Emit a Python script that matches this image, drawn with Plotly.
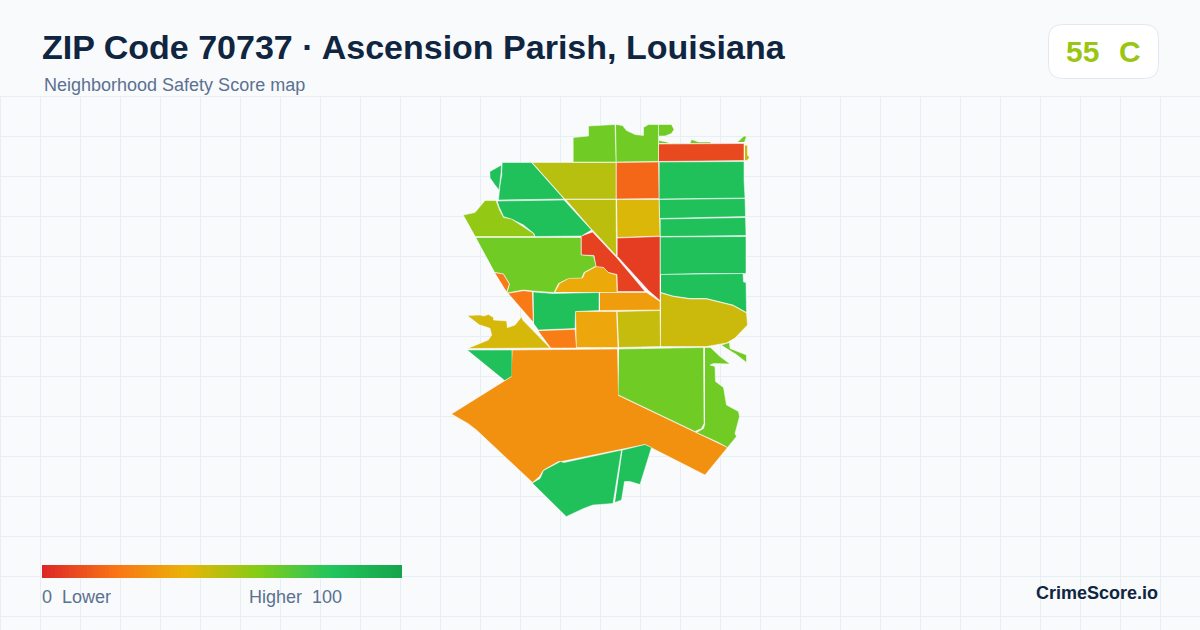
import plotly.graph_objects as go
from plotly.colors import sample_colorscale

# score ramp used for the tracts and the legend bar
score_colors = [
    [0.0, "#dc2626"],
    [0.2, "#f97316"],
    [0.4, "#eab308"],
    [0.6, "#84cc16"],
    [0.8, "#22c55e"],
    [1.0, "#16a34a"],
]
legend_scores = list(range(0, 101))

# tract outlines in page pixels
north_a = [(573.5,137.5),(588.5,136),(588.5,126),(615,124.5),(616,162),(573.5,162)]
north_b = [(616,124.5),(622.5,125.5),(626.5,130.5),(635,134.5),(643.5,135.5),(643.5,127.5),(648.5,124.5),(658.5,124.5),(658.5,161.5),(616.5,162)]
north_lobe = [(659,124.5),(671.5,124.5),(674,129.5),(671.5,133.5),(665,136),(659,136)]
north_strip = [(659,140.5),(666.5,142),(673.5,144.5),(690,143.5),(691.5,139.5),(698.5,142),(710.5,142),(711,143.5),(659,143.5)]
north_tip = [(737.5,142),(744,136),(746.5,136.5),(744.5,142)]
top_red = [(659,144),(710,143.5),(744,143.5),(744,160.5),(659,161.5)]
top_sliver = [(745,145),(747.5,145.5),(747.5,155),(749.5,157.5),(747,160.5),(745,160.5)]
orange_block = [(616.5,162.5),(658.5,162),(659,198.5),(616.5,199)]
east_1 = [(659.5,162),(744,161.5),(744,180),(745,198),(703.5,198.5),(659.5,199)]
east_2 = [(659.5,199.5),(745,198.5),(745.5,216.5),(703.5,217.5),(660,218.5)]
east_3 = [(660.5,219),(745.5,217.5),(746,235.5),(660.5,236.5)]
east_4 = [(660.5,237),(746,236.5),(746,273.5),(703.5,273.5),(660.5,274.5)]
east_5 = [(661,274.5),(743,273.5),(743.5,282),(746,282.5),(746.5,312.5),(733,305),(706.5,298.5),(690,298.5),(673,296),(661,292.5)]
olive_1 = [(532.5,162.5),(616,162.5),(616,199),(565,199)]
olive_2 = [(566,199.5),(616,199.5),(616.5,256),(592.5,230)]
amber_mid = [(617,199.5),(659,199.5),(660,236),(617.5,237.5)]
red_block = [(617.5,238),(660,236.5),(660,300.5),(648.5,290.5),(617.5,256.5)]
red_sliver = [(581.5,236),(592.5,232),(616.5,257.5),(645,291.5),(617.5,291.5),(617,274.5),(608.5,272.5),(603.5,267.5),(596,267),(594,255.5),(581.5,255)]
nw_1 = [(502.5,162.5),(531.5,162.5),(564,199),(498.5,200),(500,185),(502,173.5)]
nw_edge = [(490,171.5),(501.5,165),(501,173.5),(499,190),(495,185),(490.5,178.5)]
nw_2 = [(497.5,201),(564,200),(591.5,230),(581.5,236),(535,236.5),(534,233.5),(523.5,225),(513.5,220),(503.5,216.5),(500,208.5)]
west_lime = [(463.5,215),(475,212.5),(485,200.5),(496,200.5),(499.5,210),(503.5,217.5),(511.5,219),(523.5,226.5),(533.5,233.5),(534.5,236.5),(475.5,236.5)]
west_big = [(476,237.5),(581,237.5),(581,255),(593.5,256),(596,266),(584,272.5),(581.5,278.5),(566.5,279.5),(558.5,283.5),(554,292.5),(533,291),(523,290),(507,293),(509.5,284),(503.5,274),(495,272.5)]
west_orange = [(495,272.7),(503.3,274),(509.3,284),(506.7,291.7)]
amber_wave = [(555,292),(559.5,283.5),(568.5,278.5),(582.5,278),(585,272.5),(596,266.5),(603.5,267.5),(608.5,272.5),(616.5,275),(617,292)]
orange_wedge = [(508.3,293.3),(523.3,290.7),(532.3,291.7),(533.3,322)]
green_mid = [(533.5,292),(553,293.5),(599,292.5),(599,310.5),(575.5,311.5),(575,328.5),(538.3,330),(534,324)]
amber_bar = [(600,292.5),(646.5,292.5),(660,301.5),(660,310),(600,310.5)]
amber_sq = [(576,311.5),(616.5,311.5),(618,347.5),(576.5,347.5)]
olive_sq = [(617.5,311.5),(660,310.5),(660.5,346.5),(619,347.5)]
yellow_east = [(661,293),(673,296.5),(690,299),(706.5,299),(733,305.5),(746.5,313),(747.5,325),(735,338),(726.5,343),(706.5,346.5),(661,346.5)]
yellow_west = [(467.5,315.5),(480,315),(483.5,316),(488.5,314.5),(493.5,317.5),(493.5,320),(506.7,321),(507.3,327.7),(515,325),(521.7,316.7),(522.7,320),(550,348),(467.5,348.5),(480,343.3),(488.3,340),(491.7,335),(490,328.3),(480,325)]
orange_small = [(538.3,330.7),(575,329.3),(576.5,348),(551,348)]
green_tri = [(467.5,350),(512,350),(512,376.5),(505,380.5)]
south_big = [(512.5,350),(617.5,349),(618.5,395.5),(727.5,447.5),(705,475),(645,444.5),(561.5,461.5),(558.5,461.5),(543.5,470),(539.5,476.5),(532.5,482.5),(476.5,430),(468,423.5),(451.5,414),(511.5,376.5)]
se_lime = [(619,349),(703.5,347.5),(704,423.5),(701.5,428.5),(695,431.5),(618.5,395)]
se_edge = [(705,347.5),(710.5,347.5),(720,356.5),(730,364),(713.5,363.5),(710,365),(715,366.5),(715.5,381.5),(723.5,387.5),(726.5,405),(738.5,411.5),(739.5,416.5),(735,433.5),(736.5,436.5),(727.5,447.5),(718.5,442.5),(696.5,432.5),(703.5,428.5),(705,423.5)]
se_island = [(721.5,345),(729.5,342.5),(730,348.5),(746.5,355),(746.5,362.5),(735,353.5)]
south_1 = [(532.5,483),(540,478.5),(543.5,470.5),(560.5,461.5),(564,462.5),(621.5,450),(613,503.5),(603,504.5),(593,505),(583.5,508.5),(573.5,513.5),(566.5,516.5)]
south_2 = [(622.5,450),(645,444.5),(651.5,447.5),(640,484.5),(630,481.5),(624.5,481.5),(621.5,500),(615,502.5)]

tract_outlines = [
    north_a, north_b, north_lobe, north_strip, north_tip, top_red, top_sliver,
    orange_block, east_1, east_2, east_3, east_4, east_5, olive_1, olive_2,
    amber_mid, red_block, red_sliver, nw_1, nw_edge, nw_2, west_lime, west_big,
    west_orange, amber_wave, orange_wedge, green_mid, amber_bar, amber_sq,
    olive_sq, yellow_east, yellow_west, orange_small, green_tri, south_big,
    se_lime, se_edge, se_island, south_1, south_2,
]
tract_scores = [
    64, 64, 64, 64, 64, 9, 46,
    17, 83, 83, 83, 83, 83, 50, 49,
    43, 6, 7, 83, 83, 83, 57, 64,
    22, 37, 22, 83, 33, 36,
    47, 46, 44, 23, 83, 29,
    64, 64, 64, 83, 83,
]

fig = go.Figure()

# faint page grid below the header
for x in range(0, 1201, 40):
    fig.add_shape(type="line", x0=x + 0.5, x1=x + 0.5, y0=96.5, y1=630,
                  line=dict(color="#e6eff2", width=1), layer="below")
for y in range(96, 630, 40):
    fig.add_shape(type="line", x0=0, x1=1200, y0=y + 0.5, y1=y + 0.5,
                  line=dict(color="#e6eff2", width=1), layer="below")

for outline, score in zip(tract_outlines, tract_scores):
    fig.add_trace(go.Scatter(
        x=[p[0] for p in outline],
        y=[p[1] for p in outline],
        mode="lines",
        fill="toself",
        fillcolor=sample_colorscale(score_colors, score / 100)[0],
        line=dict(color="#ffffff", width=0.5),
        text=f"Score {score}",
        hoverinfo="text",
        showlegend=False,
    ))

# legend bar on its own little axes
fig.add_trace(go.Heatmap(
    x=legend_scores,
    y=[0],
    z=[legend_scores],
    zmin=0,
    zmax=100,
    colorscale=score_colors,
    showscale=False,
    hoverinfo="skip",
    xaxis="x2",
    yaxis="y2",
))

# score badge
fig.add_shape(
    type="path",
    path="M 1062.5 24.5 H 1144.5 Q 1158.5 24.5 1158.5 38.5 V 64.5 Q 1158.5 78.5 1144.5 78.5 "
         "H 1062.5 Q 1048.5 78.5 1048.5 64.5 V 38.5 Q 1048.5 24.5 1062.5 24.5 Z",
    fillcolor="#ffffff",
    line=dict(color="#e2e8f0", width=1),
    layer="below",
)


def add_text(x, y, text, size, color, bold=False, anchor="left"):
    fig.add_annotation(
        x=x, y=y, text=f"<b>{text}</b>" if bold else text,
        xref="x", yref="y", xanchor=anchor, yanchor="middle",
        showarrow=False, borderpad=0,
        font=dict(family="Liberation Sans", size=size, color=color),
    )


add_text(41, 47, "ZIP Code 70737 · Ascension Parish, Louisiana", 34, "#0f2540", bold=True)
add_text(43, 85, "Neighborhood Safety Score map", 18, "#5b7190")
add_text(1065, 51, "55", 30, "#9ac513", bold=True)
add_text(1118, 51, "C", 30, "#9ac513", bold=True)
add_text(41, 597, "0\u00a0\u00a0Lower", 18, "#5b7190")
add_text(248, 597, "Higher\u00a0\u00a0100", 18, "#5b7190")
add_text(1159, 592.5, "CrimeScore.io", 18, "#0f2540", bold=True, anchor="right")

fig.update_layout(
    width=1200,
    height=630,
    margin=dict(l=0, r=0, t=0, b=0),
    paper_bgcolor="#f8fafc",
    plot_bgcolor="rgba(0,0,0,0)",
    xaxis=dict(range=[0, 1200], visible=False, fixedrange=True),
    yaxis=dict(range=[630, 0], visible=False, fixedrange=True),
    xaxis2=dict(domain=[42 / 1200, 402 / 1200], range=[0, 100], visible=False,
                fixedrange=True, anchor="y2"),
    yaxis2=dict(domain=[52 / 630, 65 / 630], visible=False, fixedrange=True,
                anchor="x2"),
)

fig.write_html("out.html", config={"displayModeBar": False},
               post_script="document.body.style.margin='0';document.body.style.overflow='hidden';")
